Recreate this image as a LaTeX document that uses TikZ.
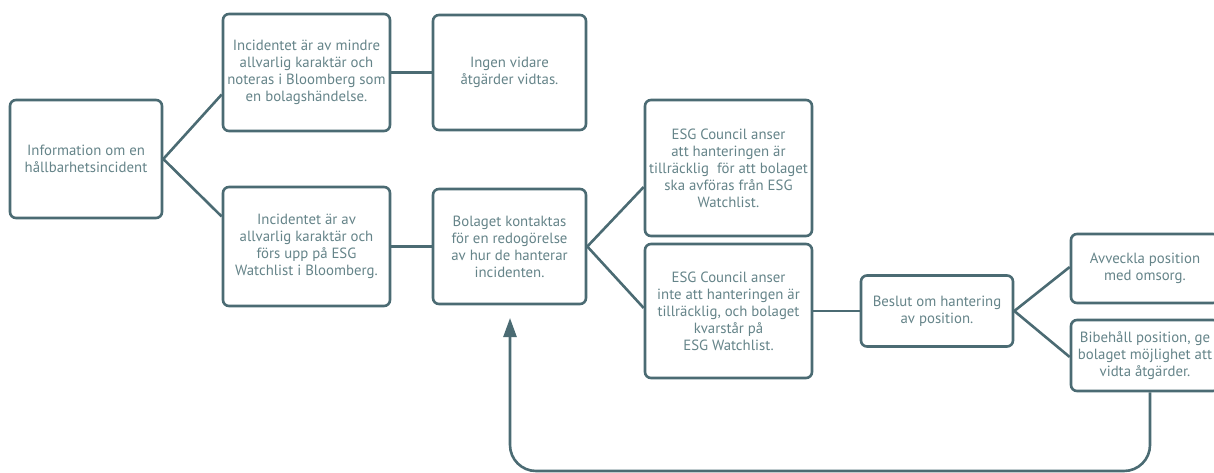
\documentclass[tikz,border=0pt]{standalone}
\usepackage{fontspec}
\setmainfont{PT Sans}
\usetikzlibrary{arrows.meta,calc}
\definecolor{linec}{HTML}{4B6B73}
\definecolor{textc}{HTML}{658489}
\begin{document}
\begin{tikzpicture}[x=1pt,y=-1pt,
  box/.style={draw=linec,line width=2.6pt,rounded corners=6pt,fill=white,
    align=center,text=textc,inner sep=1pt,
    font=\fontsize{14.8}{17}\selectfont},
  conn/.style={draw=linec,line width=2.6pt}]
\useasboundingbox (0,0) rectangle (1214,473);
\node[box,minimum width=152pt,minimum height=118pt] (info) at (86,159) {Information om en\\hållbarhetsincident};
\node[box,minimum width=167pt,minimum height=117pt] (minor) at (306.5,72.5) {Incidentet är av mindre\\allvarlig karaktär och\\noteras i Bloomberg som\\en bolagshändelse.};
\node[box,minimum width=153pt,minimum height=115pt] (ingen) at (509.5,72.5) {Ingen vidare\\åtgärder vidtas.};
\node[box,minimum width=167pt,minimum height=119pt] (serious) at (306.5,246.5) {Incidentet är av\\allvarlig karaktär och\\förs upp på ESG\\Watchlist i Bloomberg.};
\node[box,minimum width=153pt,minimum height=115pt] (bolaget) at (509.5,246.5) {Bolaget kontaktas\\för en redogörelse\\av hur de hanterar\\incidenten.};
\node[box,minimum width=167pt,minimum height=136pt] (esga) at (728.5,168) {ESG Council anser\\att hanteringen är\\tillräcklig \ för att bolaget\\ska avföras från ESG\\Watchlist.};
\node[box,minimum width=167pt,minimum height=134pt] (esgb) at (728.5,311) {ESG Council anser\\inte att hanteringen är\\tillräcklig, och bolaget\\kvarstår på\\ESG Watchlist.};
\node[box,minimum width=152pt,minimum height=71pt] (beslut) at (937,311) {Beslut om hantering\\av position.};
\node[box,minimum width=148pt,minimum height=69pt] (avv) at (1145,268.5) {Avveckla position\\med omsorg.};
\node[box,minimum width=148pt,minimum height=71pt] (bib) at (1145,355.5) {Bibehåll position, ge\\bolaget möjlighet att\\vidta åtgärder.};
% connectors
\draw[conn] (info.east) -- ($(minor.west)+(0,22)$);
\draw[conn] (info.east) -- ($(serious.west)+(0,-30)$);
\draw[conn] (minor.east) -- (ingen.west);
\draw[conn] (serious.east) -- (bolaget.west);
\draw[conn] (bolaget.east) -- ($(esga.west)+(0,19)$);
\draw[conn] (bolaget.east) -- ($(esgb.west)+(0,-3)$);
\draw[conn] (esgb.east) -- (beslut.west);
\draw[conn] (beslut.east) -- ($(avv.west)+(0,-1.5)$);
\draw[conn] (beslut.east) -- ($(bib.west)+(0,1.5)$);
\coordinate (c1) at (1150,471);
\coordinate (c2) at (510,471);
\coordinate (tip) at (510,318);
\draw[conn,rounded corners=26pt,-{Triangle[length=19pt,width=13pt]}] ($(bib.south)+(5,0)$) -- (c1) -- (c2) -- (tip);
\end{tikzpicture}
\end{document}
